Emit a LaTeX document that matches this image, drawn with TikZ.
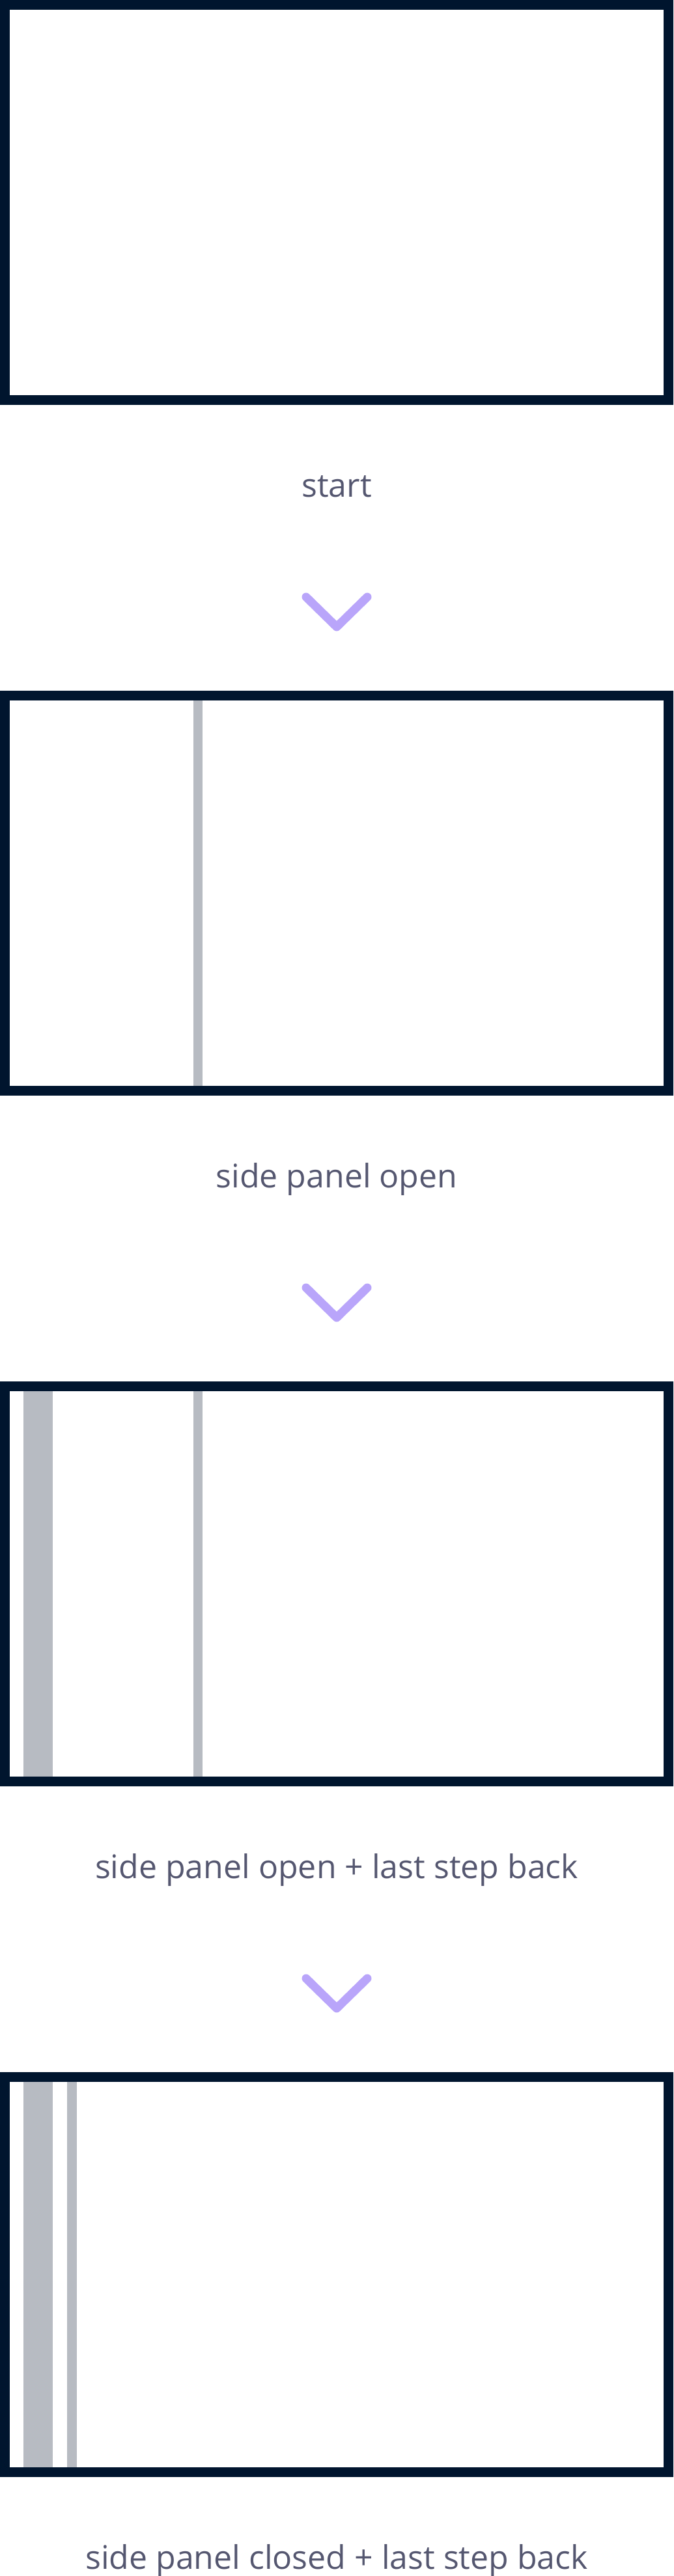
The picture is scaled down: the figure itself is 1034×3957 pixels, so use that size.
\documentclass[tikz,border=0pt]{standalone}
\usepackage{fontspec}
\setmainfont{Open Sans}
\definecolor{framec}{HTML}{00152E}
\definecolor{barc}{HTML}{B7BBC2}
\definecolor{textc}{HTML}{555770}
\definecolor{chevc}{HTML}{B9A5FA}
\tikzset{
  screen/.style={draw=framec, line width=15pt, fill=white, minimum width=1019pt, minimum height=607pt, inner sep=0pt, outer sep=0pt, anchor=north west},
  bar/.style={fill=barc, draw=none},
  caption/.style={text=textc, font=\fontsize{50}{60}\selectfont, anchor=base, inner sep=0pt},
  chev/.style={draw=chevc, line width=13pt, line cap=round, line join=round}
}
\begin{document}
\begin{tikzpicture}[x=1pt,y=-1pt]
\useasboundingbox (0,0) rectangle (1034,3957);
% frame 1
\node[screen] (s1) at (7.5,7.5) {};
\node[caption] (c1) at (517,763) {start};
\coordinate (a1l) at (470,917); \coordinate (a1m) at (517,963); \coordinate (a1r) at (564,917);
\draw[chev] (a1l) -- (a1m) -- (a1r);
% frame 2
\node[screen] (s2) at (7.5,1068.5) {};
\fill[bar] (297,1076) rectangle (311,1668);
\node[caption] (c2) at (517,1824) {side panel open};
\coordinate (a2l) at (470,1978); \coordinate (a2m) at (517,2024); \coordinate (a2r) at (564,1978);
\draw[chev] (a2l) -- (a2m) -- (a2r);
% frame 3
\node[screen] (s3) at (7.5,2129.5) {};
\fill[bar] (36,2137) rectangle (81,2729);
\fill[bar] (297,2137) rectangle (311,2729);
\node[caption] (c3) at (517,2885) {side panel open + last step back};
\coordinate (a3l) at (470,3039); \coordinate (a3m) at (517,3085); \coordinate (a3r) at (564,3039);
\draw[chev] (a3l) -- (a3m) -- (a3r);
% frame 4
\node[screen] (s4) at (7.5,3190.5) {};
\fill[bar] (36,3198) rectangle (81,3790);
\fill[bar] (103,3198) rectangle (118,3790);
\node[caption] (c4) at (517,3946) {side panel closed + last step back};
\end{tikzpicture}
\end{document}
